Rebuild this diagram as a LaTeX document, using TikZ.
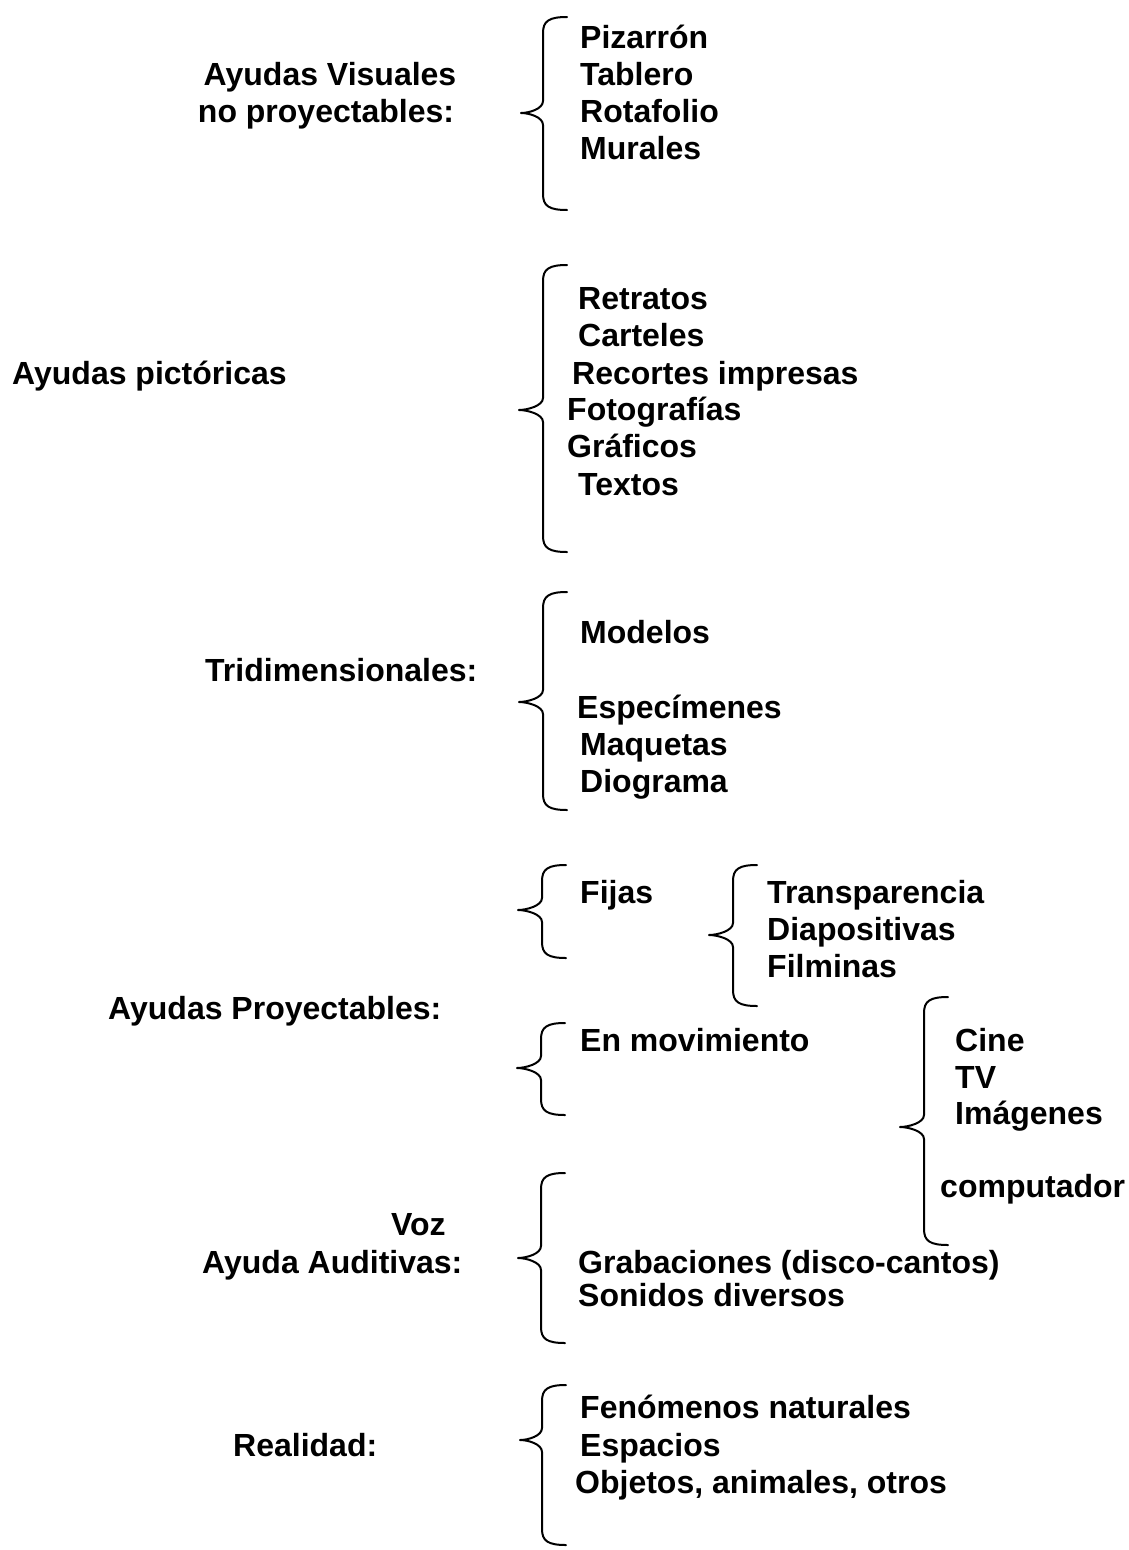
\documentclass[tikz,border=0pt]{standalone}
\usepackage{fontspec}
\setmainfont{Liberation Sans}
\newcommand{\mybrace}[5]{% x, top, mid, bot, tipx
  \draw[bracepath] ({#1+24},#2) .. controls ({#1+6},#2) and (#1,{#2+4}) .. (#1,{#2+16})
    -- (#1,{#3-12}) .. controls (#1,{#3-4}) and ({#5+8},#3) .. (#5,#3)
    .. controls ({#5+8},#3) and (#1,{#3+4}) .. (#1,{#3+12})
    -- (#1,{#4-16}) .. controls (#1,{#4-4}) and ({#1+6},#4) .. ({#1+24},#4);}
\begin{document}
\begin{tikzpicture}[x=1pt,y=-1pt,
  every node/.style={inner sep=0pt, font=\fontsize{32}{37}\selectfont\bfseries},
  lbl/.style={anchor=base west},
  clbl/.style={anchor=base},
  bracepath/.style={line width=2pt, line cap=round, line join=round}]
\useasboundingbox[fill=white] (0,0) rectangle (1129,1550);

% Block 1
\node[clbl] (av1) at (330,85) {Ayudas Visuales};
\node[clbl] (av2) at (326,122) {no proyectables:};
\mybrace{543}{17}{113}{210}{521}
\node[lbl] (piz) at (580,48) {Pizarrón};
\node[lbl] (tab) at (580,85) {Tablero};
\node[lbl] (rot) at (580,122) {Rotafolio};
\node[lbl] (mur) at (580,159) {Murales};

% Block 2
\node[lbl] (pic) at (12,384) {Ayudas pictóricas};
\mybrace{543}{265}{410}{552}{519}
\node[lbl] (ret) at (578,309) {Retratos};
\node[lbl] (car) at (578,346) {Carteles};
\node[lbl] (rec) at (572,384) {Recortes impresas};
\node[lbl] (fot) at (567,420) {Fotografías};
\node[lbl] (gra) at (567,457) {Gráficos};
\node[lbl] (tex) at (578,495) {Textos};

% Block 3
\node[lbl] (tri) at (205,681) {Tridimensionales:};
\mybrace{543}{592}{702}{810}{519}
\node[lbl] (mod) at (580,643) {Modelos};
\node[lbl] (esp) at (577,718) {Especímenes};
\node[lbl] (maq) at (580,755) {Maquetas};
\node[lbl] (dio) at (580,792) {Diograma};

% Block 4
\node[lbl] (pro) at (108,1019) {Ayudas Proyectables:};
\mybrace{542}{865}{910}{958}{518}
\node[lbl] (fij) at (580,903) {Fijas};
\mybrace{733}{865}{935}{1006}{709}
\node[lbl] (tra) at (767,903) {Transparencia};
\node[lbl] (dia) at (767,940) {Diapositivas};
\node[lbl] (fil) at (767,977) {Filminas};
\mybrace{541}{1023}{1068}{1115}{517}
\node[lbl] (mov) at (580,1051) {En movimiento};
\mybrace{924}{997}{1127}{1245}{900}
\node[lbl] (cin) at (955,1051) {Cine};
\node[lbl] (tv) at (955,1088) {TV};
\node[lbl] (ima) at (955,1124) {Imágenes};
\node[lbl] (com) at (940,1197) {computador};

% Block 5
\node[lbl] (voz) at (391,1235) {Voz};
\node[lbl] (aud) at (202,1273) {Ayuda Auditivas:};
\mybrace{541}{1173}{1258}{1343}{518}
\node[lbl] (grb) at (578,1273) {Grabaciones (disco-cantos)};
\node[lbl] (son) at (578,1306) {Sonidos diversos};

% Block 6
\node[lbl] (rea) at (233,1456) {Realidad:};
\mybrace{542}{1385}{1440}{1545}{520}
\node[lbl] (fen) at (580,1418) {Fenómenos naturales};
\node[lbl] (esc) at (580,1456) {Espacios};
\node[lbl] (obj) at (575,1493) {Objetos, animales, otros};
\end{tikzpicture}
\end{document}
